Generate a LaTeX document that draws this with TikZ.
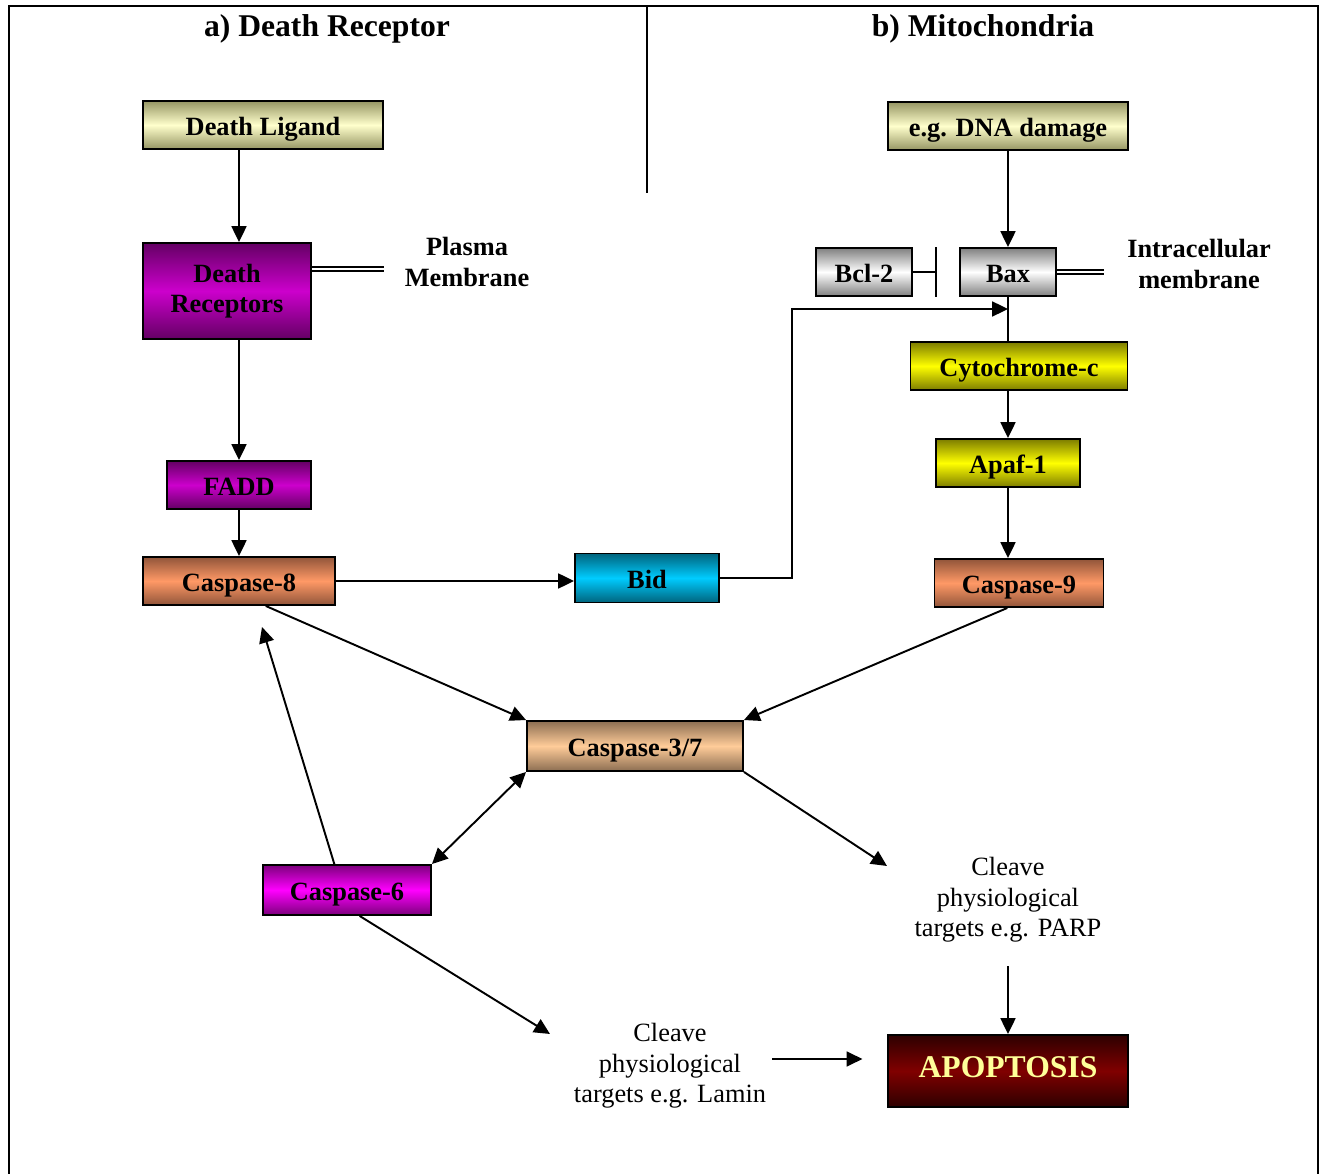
\documentclass[tikz,border=0pt]{standalone}
\usepackage{fontspec}
\setmainfont{Liberation Serif}
\usepackage{tikz}
\usetikzlibrary{arrows.meta,positioning,calc}
\definecolor{LigandLight}{RGB}{255,255,204}
\definecolor{LigandDark}{RGB}{150,150,100}
\definecolor{ReceptorLight}{RGB}{204,0,204}
\definecolor{ReceptorDark}{RGB}{100,0,100}
\definecolor{CaspLight}{RGB}{255,153,102}
\definecolor{CaspDark}{RGB}{145,85,58}
\definecolor{BidLight}{RGB}{0,204,255}
\definecolor{BidDark}{RGB}{0,100,125}
\definecolor{GreyLight}{RGB}{255,255,255}
\definecolor{GreyDark}{RGB}{128,128,128}
\definecolor{CytoLight}{RGB}{255,255,0}
\definecolor{CytoDark}{RGB}{125,125,0}
\definecolor{EffLight}{RGB}{255,204,153}
\definecolor{EffDark}{RGB}{140,110,82}
\definecolor{SixLight}{RGB}{255,0,255}
\definecolor{SixDark}{RGB}{125,0,125}
\definecolor{ApopLight}{RGB}{128,0,0}
\definecolor{ApopDark}{RGB}{45,0,0}
\definecolor{ApopText}{RGB}{255,255,153}
\tikzset{
  box/.style={draw=black,line width=1.1pt,inner sep=0pt,align=center,
    text height=2.6ex,text depth=0pt,font=\bfseries\fontsize{15}{17}\selectfont},
  ligandbox/.style={box,top color=LigandDark,bottom color=LigandDark,middle color=LigandLight},
  receptorbox/.style={box,top color=ReceptorDark,bottom color=ReceptorDark,middle color=ReceptorLight},
  caspbox/.style={box,top color=CaspDark,bottom color=CaspDark,middle color=CaspLight},
  bidbox/.style={box,top color=BidDark,bottom color=BidDark,middle color=BidLight},
  greybox/.style={box,top color=GreyDark,bottom color=GreyDark,middle color=GreyLight},
  cytobox/.style={box,top color=CytoDark,bottom color=CytoDark,middle color=CytoLight},
  effbox/.style={box,top color=EffDark,bottom color=EffDark,middle color=EffLight},
  sixbox/.style={box,top color=SixDark,bottom color=SixDark,middle color=SixLight},
  apopbox/.style={box,top color=ApopDark,bottom color=ApopDark,middle color=ApopLight,
    text=ApopText,text height=1.6ex,font=\bfseries\fontsize{18}{20}\selectfont},
  heading/.style={font=\bfseries\fontsize{18}{20}\selectfont},
  membrane/.style={align=center,font=\bfseries\fontsize{15}{18}\selectfont},
  note/.style={align=center,font=\fontsize{15}{17.3}\selectfont},
  tip/.tip={Triangle[length=9pt,width=8.5pt]},
  arrow/.style={-tip,line width=1.1pt},
  membline/.style={double,double distance=1.6pt,line width=0.8pt}
}
\begin{document}
\begin{tikzpicture}[x=0.2mm,y=-0.2mm]
  \useasboundingbox (0,0) rectangle (1323,1174);
  % frame
  \draw[line width=1.1pt] (9,1174) -- (9,6) -- (1318,6) -- (1318,1174);
  \draw[line width=1.1pt] (647,6) -- (647,193);
  \node[heading] (hdr) at (327,29) {a) Death Receptor};
  \node[heading] (hmito) at (983,29) {b) Mitochondria};
  % death receptor pathway
  \node[ligandbox,minimum width=48mm,minimum height=9.6mm] (dl) at (263,125) {Death Ligand};
  \node[receptorbox,text height={},text depth={},minimum width=33.6mm,minimum height=19.2mm] (dr) at (227,291) {Death\\Receptors};
  \node[receptorbox,minimum width=28.8mm,minimum height=9.6mm] (fadd) at (239,485) {FADD};
  \node[caspbox,minimum width=38.4mm,minimum height=9.6mm] (casp8) at (239,581) {Caspase-8};
  \node[bidbox,minimum width=28.8mm,minimum height=9.8mm] (bid) at (647,578) {Bid};
  \node[membrane] (pm) at (467,262) {Plasma\\Membrane};
  % mitochondrial pathway
  \node[ligandbox,minimum width=48mm,minimum height=9.6mm] (dna) at (1008,126) {e.g. DNA damage};
  \node[greybox,minimum width=19.2mm,minimum height=9.6mm] (bcl) at (864,272) {Bcl-2};
  \node[greybox,minimum width=19.2mm,minimum height=9.6mm] (bax) at (1008,272) {Bax};
  \node[membrane] (im) at (1199,264) {Intracellular\\membrane};
  \node[cytobox,minimum width=43.4mm,minimum height=9.6mm] (cyto) at (1019,366) {Cytochrome-c};
  \node[cytobox,minimum width=28.8mm,minimum height=9.6mm] (apaf) at (1008,463) {Apaf-1};
  \node[caspbox,minimum width=33.8mm,minimum height=9.6mm] (casp9) at (1019,583) {Caspase-9};
  % executioners
  \node[effbox,minimum width=43.2mm,minimum height=10mm] (casp37) at (635,746) {Caspase-3/7};
  \node[sixbox,minimum width=33.6mm,minimum height=10mm] (casp6) at (347,890) {Caspase-6};
  \node[note] (parp) at (1008,900) {Cleave\\physiological\\targets e.g. PARP};
  \node[note] (lamin) at (670,1066) {Cleave\\physiological\\targets e.g. Lamin};
  \node[apopbox,minimum width=48mm,minimum height=14.4mm] (apop) at (1008,1071) {APOPTOSIS};
  \coordinate (baxin) at (1008,309);
  \coordinate (c8tip) at (262,627);
  \coordinate (parptip) at (887,866);
  \coordinate (lamintip) at (550,1034);
  % connectors
  \draw[arrow] (fadd |- dl.south) -- (fadd |- dr.north);
  \draw[arrow] (fadd |- dr.south) -- (fadd.north);
  \draw[arrow] (fadd.south) -- (casp8.north);
  \draw[membline] ($(dr.east)+(0,-22)$) -- ++(72,0);
  \draw[arrow] (casp8.east) -- (bid.west |- casp8.east);
  \draw[arrow] (bid.east) -- ++(72,0) |- (baxin);
  \draw[arrow] (dna.south) -- (bax.north);
  \draw[-{Bar[width=28pt]},line width=1.1pt] (bcl.east) -- ++(24,0);
  \draw[membline] (bax.east) -- ++(47,0);
  \draw[line width=1.1pt] (bax.south) -- (bax.south |- cyto.north);
  \draw[arrow] (bax.south |- cyto.south) -- (apaf.north);
  \draw[arrow] (apaf.south) -- (apaf.south |- casp9.north);
  \draw[arrow] (casp8.-43) -- (casp37.north west);
  \draw[arrow] (casp9.-115) -- (casp37.north east);
  \draw[tip-tip,line width=1.1pt] (casp37.south west) -- (casp6.north east);
  \draw[arrow] (casp6.116) -- (c8tip);
  \draw[arrow] (casp37.south east) -- (parptip);
  \draw[arrow] (casp6.-64) -- (lamintip);
  \draw[arrow,shorten <=10pt] (parp.south) -- (apop.north);
  \draw[arrow,shorten >=14pt] ($(lamin.east)+(0,-7)$) -- ($(apop.west)+(0,-12)$);
\end{tikzpicture}
\end{document}
